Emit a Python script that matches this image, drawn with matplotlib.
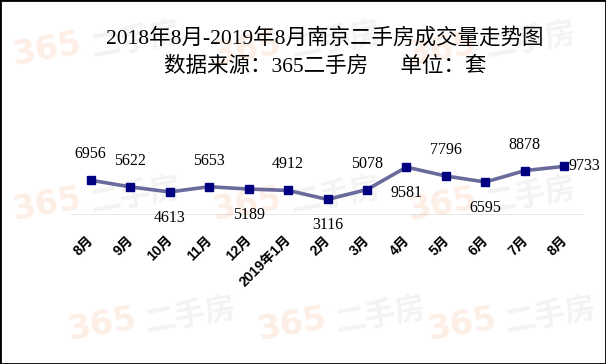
import matplotlib
matplotlib.use("Agg")
import matplotlib.pyplot as plt
import matplotlib.transforms as mtransforms
from matplotlib.patches import Rectangle

months = ["8月", "9月", "10月", "11月", "12月", "2019年1月", "2月",
          "3月", "4月", "5月", "6月", "7月", "8月"]
volumes = [6956, 5622, 4613, 5653, 5189, 4912, 3116,
           5078, 9581, 7796, 6595, 8878, 9733]
# where each value label sits relative to its point
label_pos = ["up", "up", "down", "up", "down", "up", "down",
             "up", "down", "up", "down", "up", "right"]

W, H = 606, 364
fig = plt.figure(figsize=(W / 100, H / 100), dpi=100)
fig.patch.set_facecolor("white")

# faint watermarks, drawn on a background axes behind everything
bg = fig.add_axes([0, 0, 1, 1], zorder=-1)
bg.set_xlim(0, W)
bg.set_ylim(H, 0)
bg.axis("off")
wm_spots = [(85, 50), (285, 50), (480, 50), (85, 205), (285, 205), (480, 205),
            (140, 325), (330, 325), (500, 325)]
for (px, py) in wm_spots:
    bg.text(px, py, "365", fontsize=24, color="#fdeee6", fontweight="bold",
            ha="right", va="center", rotation=10, family=["DejaVu Sans"])
    bg.text(px + 2, py - 10, "二手房", fontsize=22, color="#f3f3f3",
            fontweight="bold", ha="left", va="center", rotation=10,
            family=["Noto Sans CJK SC"])

ax = fig.add_axes([71 / W, 1 - 215 / H, 513 / W, 125 / H])
ax.set_facecolor("none")
x = list(range(len(months)))

ax.plot(x, volumes, color="#6a6a9c", lw=2.6, zorder=2)
ax.plot(x, volumes, ls="none", marker="s", ms=5.5, color="#000080", zorder=3)

ax.set_xlim(-0.5, len(months) - 0.5)
ax.set_ylim(0, 25000)
ax.axhline(0, color="#868686", lw=1.0, zorder=1)

for s in ax.spines.values():
    s.set_visible(False)
ax.set_yticks([])
ax.tick_params(axis="x", length=0, pad=0)
ax.set_xticks(x)
ax.set_xticklabels(months, rotation=45, ha="right", va="top",
                   rotation_mode="anchor", fontsize=10, fontweight="bold",
                   family=["Liberation Sans", "Noto Sans CJK SC"])
off = mtransforms.ScaledTranslation(-4 / 100, -18 / 100, fig.dpi_scale_trans)
for lab in ax.get_xticklabels():
    lab.set_transform(lab.get_transform() + off)

for xi, v, pos in zip(x, volumes, label_pos):
    if pos == "up":
        xy, ha, va = (0, 13), "center", "bottom"
    elif pos == "down":
        xy, ha, va = (0, -13), "center", "top"
    else:
        xy, ha, va = (3, 0), "left", "center"
    ax.annotate(f"{v}", (xi, v), xytext=xy, textcoords="offset points",
                ha=ha, va=va, fontsize=11.5, family=["Liberation Serif"],
                color="black", zorder=4)

title_font = ["Liberation Serif", "Noto Sans CJK SC"]
fig.text(325 / W, 1 - 38 / H, "2018年8月-2019年8月南京二手房成交量走势图",
         ha="center", va="center", fontsize=15.5, family=title_font)
fig.text(325 / W, 1 - 67 / H, "数据来源：365二手房      单位：套",
         ha="center", va="center", fontsize=15.5, family=title_font)

fig.patches.append(Rectangle((0, 0), 1, 1, transform=fig.transFigure,
                             fill=False, edgecolor="black", lw=2))

fig.savefig("out.png", dpi=100)
